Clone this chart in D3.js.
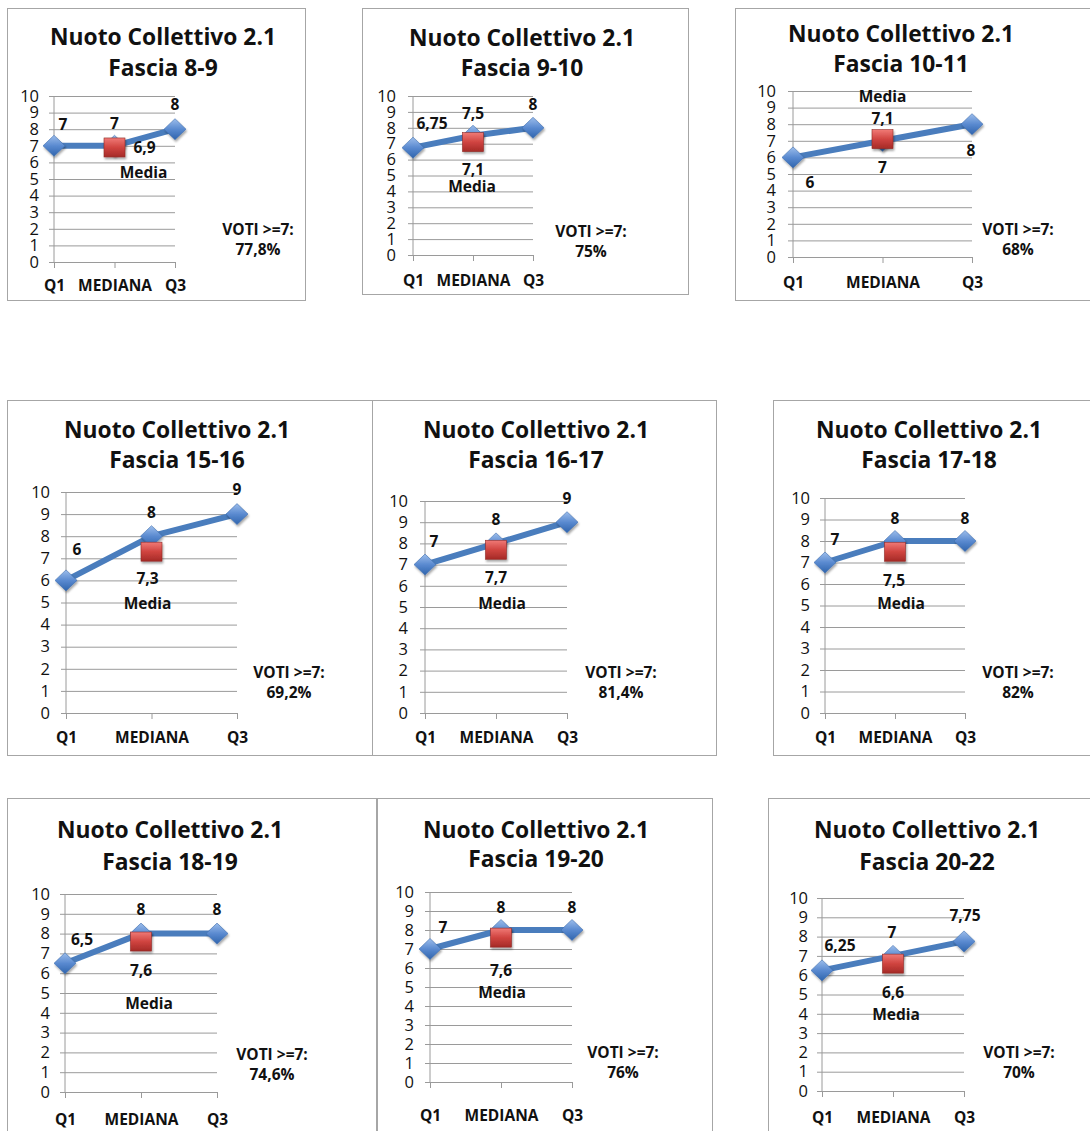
<!DOCTYPE html>
<html>
<head>
<meta charset="utf-8">
<script src="https://cdn.jsdelivr.net/npm/d3@7"></script>
<style>
  html, body { margin: 0; padding: 0; background: #fff; }
  svg { display: block; }
  text { font-family: "Open Sans", "Liberation Sans", sans-serif; fill: #111; }
</style>
</head>
<body>
<svg id="chart" width="1090" height="1131"></svg>
<script>
// Nuoto Collettivo 2.1 – quartili, mediana e media dei voti per fascia d'età
const categorie = ["Q1", "MEDIANA", "Q3"];
const fasce     = ["8-9", "9-10", "10-11", "15-16", "16-17", "17-18", "18-19", "19-20", "20-22"];
const q1        = [7, 6.75, 6, 6, 7, 7, 6.5, 7, 6.25];
const mediana   = [7, 7.5, 7, 8, 8, 8, 8, 8, 7];
const q3        = [8, 8, 8, 9, 9, 8, 8, 8, 7.75];
const media     = [6.9, 7.1, 7.1, 7.3, 7.7, 7.5, 7.6, 7.6, 6.6];
const votiSette = [77.8, 75, 68, 69.2, 81.4, 82, 74.6, 76, 70];
const yTicks    = [0, 1, 2, 3, 4, 5, 6, 7, 8, 9, 10];

// Placement of each small chart on the page
// box: frame [x, y, w, h]; ax: x of Q1 axis; x3: x of Q3; y0/y10: pixel rows of 0 and 10
const layout = [
  { box: [7, 8, 298, 292],   ax: 54,  x3: 175, y0: 262,  y10: 96,  gap: 15, tc: 163, t1: 45,  t2: 76,  cy: 291,  vc: 258,  v1: 235,  v2: 255 },
  { box: [362, 8, 326, 286], ax: 413, x3: 533, y0: 255,  y10: 96,  gap: 17, tc: 522, t1: 46,  t2: 76,  cy: 286,  vc: 591,  v1: 237,  v2: 257 },
  { box: [735, 8, 360, 292], ax: 793, x3: 972, y0: 257,  y10: 91,  gap: 17, tc: 901, t1: 42,  t2: 72,  cy: 288,  vc: 1018, v1: 235,  v2: 255 },
  { box: [7, 400, 365, 355], ax: 66,  x3: 237, y0: 713,  y10: 492, gap: 16, tc: 177, t1: 438, t2: 468, cy: 743,  vc: 289,  v1: 678,  v2: 698 },
  { box: [372, 400, 344, 355], ax: 425, x3: 567, y0: 713, y10: 501, gap: 17, tc: 536, t1: 438, t2: 468, cy: 743,  vc: 621,  v1: 678,  v2: 698 },
  { box: [773, 400, 330, 355], ax: 825, x3: 965, y0: 713, y10: 498, gap: 15, tc: 929, t1: 438, t2: 468, cy: 743,  vc: 1018, v1: 678,  v2: 698 },
  { box: [7, 798, 369, 345], ax: 65,  x3: 217, y0: 1092, y10: 894, gap: 15, tc: 170, t1: 838, t2: 870, cy: 1125, vc: 272,  v1: 1060, v2: 1080 },
  { box: [377, 798, 335, 345], ax: 430, x3: 572, y0: 1082, y10: 892, gap: 16, tc: 536, t1: 838, t2: 867, cy: 1121, vc: 623,  v1: 1058, v2: 1078 },
  { box: [768, 798, 330, 345], ax: 822, x3: 964, y0: 1091, y10: 898, gap: 14, tc: 927, t1: 838, t2: 870, cy: 1123, vc: 1019, v1: 1058, v2: 1078 }
];

// Label offsets [dx, dy] from each marker: Q1, MEDIANA, Q3, then media value and "Media" word
const offsets = [
  [[9, -22], [0, -23], [0, -25], [30, 0],  [29, 25]],
  [[19, -25], [0, -23], [0, -24], [0, 27], [-1, 44]],
  [[17, 25], [0, 26], [-1, 26], [0, -21], [0, -43]],
  [[11, -31], [0, -24], [0, -25], [-4, 26], [-4, 51]],
  [[9, -24], [0, -24], [0, -24], [0, 27], [6, 53]],
  [[10, -24], [0, -23], [0, -23], [-1, 28], [6, 51]],
  [[17, -24], [0, -25], [0, -25], [0, 28], [8, 61]],
  [[13, -22], [0, -23], [0, -23], [0, 32], [1, 54]],
  [[18, -25], [-1, -24], [1, -26], [0, 28], [3, 50]]
];

const it = d3.formatLocale({ decimal: ",", thousands: ".", grouping: [3], currency: ["€", ""] });
const fmt = it.format(".3~g");

const svg = d3.select("#chart");
const defs = svg.append("defs");

const gBlue = defs.append("linearGradient").attr("id", "gBlue").attr("x1", 0).attr("y1", 0).attr("x2", 0).attr("y2", 1);
gBlue.append("stop").attr("offset", "0%").attr("stop-color", "#9cbdeb");
gBlue.append("stop").attr("offset", "50%").attr("stop-color", "#5a8ad0");
gBlue.append("stop").attr("offset", "100%").attr("stop-color", "#2f64ad");

const gRed = defs.append("linearGradient").attr("id", "gRed").attr("x1", 0).attr("y1", 0).attr("x2", 0).attr("y2", 1);
gRed.append("stop").attr("offset", "0%").attr("stop-color", "#f07a76");
gRed.append("stop").attr("offset", "50%").attr("stop-color", "#d04440");
gRed.append("stop").attr("offset", "100%").attr("stop-color", "#a52a27");

const shadow = defs.append("filter").attr("id", "shadow").attr("x", "-50%").attr("y", "-50%").attr("width", "200%").attr("height", "200%");
shadow.append("feDropShadow").attr("dx", 1).attr("dy", 2).attr("stdDeviation", 1.2).attr("flood-color", "#000").attr("flood-opacity", 0.35);

const LABEL_FS = 15.5;

fasce.forEach((fascia, i) => {
  const L = layout[i];
  const off = offsets[i];
  const g = svg.append("g");

  // frame
  g.append("rect")
    .attr("x", L.box[0] + 0.5).attr("y", L.box[1] + 0.5)
    .attr("width", L.box[2]).attr("height", L.box[3])
    .attr("fill", "#fff").attr("stroke", "#a6a6a6").attr("stroke-width", 1);

  // titles, sized to a common width
  const titles = [["Nuoto Collettivo 2.1", L.t1], ["Fascia " + fascia, L.t2]].map(([s, yy]) =>
    g.append("text").attr("x", L.tc).attr("y", yy)
      .attr("text-anchor", "middle").attr("font-weight", 700).attr("font-size", 20).text(s));
  const fs = 20 * 226 / titles[0].node().getComputedTextLength();
  titles.forEach(t => t.attr("font-size", fs));

  const x = d3.scalePoint().domain(categorie).range([L.ax, L.x3]);
  const y = d3.scaleLinear().domain([0, 10]).range([L.y0, L.y10]);
  const w = L.x3 - L.ax;

  // horizontal grid + y tick labels
  const yAxis = g.append("g").attr("transform", `translate(${L.ax},0)`)
    .call(d3.axisLeft(y).tickValues(yTicks).tickFormat(d3.format("d")).tickSize(0).tickPadding(L.gap));
  yAxis.select(".domain").remove();
  yAxis.selectAll(".tick line").attr("x1", -5).attr("x2", w).attr("stroke", "#9a9a9a").attr("stroke-width", 1);
  yAxis.selectAll(".tick text").attr("font-size", 16.5).attr("fill", "#1a1a1a")
    .style("font-family", "'Open Sans', sans-serif");
  g.append("line").attr("x1", L.ax).attr("x2", L.ax).attr("y1", L.y10).attr("y2", L.y0)
    .attr("stroke", "#9a9a9a");

  // x axis with category ticks
  const xAxis = g.append("g").attr("transform", `translate(0,${L.y0})`)
    .call(d3.axisBottom(x).tickSize(6).tickPadding(0));
  xAxis.select(".domain").remove();
  xAxis.selectAll(".tick line").attr("stroke", "#9a9a9a");
  xAxis.selectAll(".tick text").attr("y", L.cy - L.y0).attr("dy", 0)
    .attr("font-size", LABEL_FS).attr("font-weight", 700).attr("fill", "#111")
    .style("font-family", "'Open Sans', sans-serif");

  // quartile series
  const vals = [q1[i], mediana[i], q3[i]];
  const pts = categorie.map((c, k) => ({ c, v: vals[k] }));
  g.append("path").datum(pts)
    .attr("d", d3.line().x(d => x(d.c)).y(d => y(d.v)))
    .attr("fill", "none").attr("stroke", "#4a7dbd").attr("stroke-width", 6)
    .attr("stroke-linejoin", "round");

  const diamond = "M0,-10.5L11,0L0,10.5L-11,0Z";
  g.selectAll(".dm").data(pts).join("path").attr("class", "dm")
    .attr("d", diamond)
    .attr("transform", d => `translate(${x(d.c)},${y(d.v)})`)
    .attr("fill", "url(#gBlue)").attr("stroke", "#3f6fae").attr("stroke-width", 0.6)
    .attr("filter", "url(#shadow)");

  // media marker on the MEDIANA column
  const mx = x("MEDIANA"), my = y(media[i]);
  g.append("rect").attr("x", mx - 10.5).attr("y", my - 9.5).attr("width", 21).attr("height", 19)
    .attr("fill", "url(#gRed)").attr("stroke", "#8f2a27").attr("stroke-width", 0.6)
    .attr("filter", "url(#shadow)");

  // data labels
  const lab = (xx, yy, s) => g.append("text").attr("x", xx).attr("y", yy)
    .attr("text-anchor", "middle").attr("dominant-baseline", "central")
    .attr("font-size", LABEL_FS).attr("font-weight", 700).text(s);
  pts.forEach((d, k) => lab(x(d.c) + off[k][0], y(d.v) + off[k][1], fmt(d.v)));
  lab(mx + off[3][0], my + off[3][1], fmt(media[i]));
  lab(mx + off[4][0], my + off[4][1], "Media");

  // share of marks >= 7
  g.append("text").attr("x", L.vc).attr("y", L.v1).attr("text-anchor", "middle")
    .attr("font-size", LABEL_FS).attr("font-weight", 700).text("VOTI >=7:");
  g.append("text").attr("x", L.vc).attr("y", L.v2).attr("text-anchor", "middle")
    .attr("font-size", LABEL_FS).attr("font-weight", 700).text(it.format("~g")(votiSette[i]) + "%");
});
</script>
</body>
</html>
